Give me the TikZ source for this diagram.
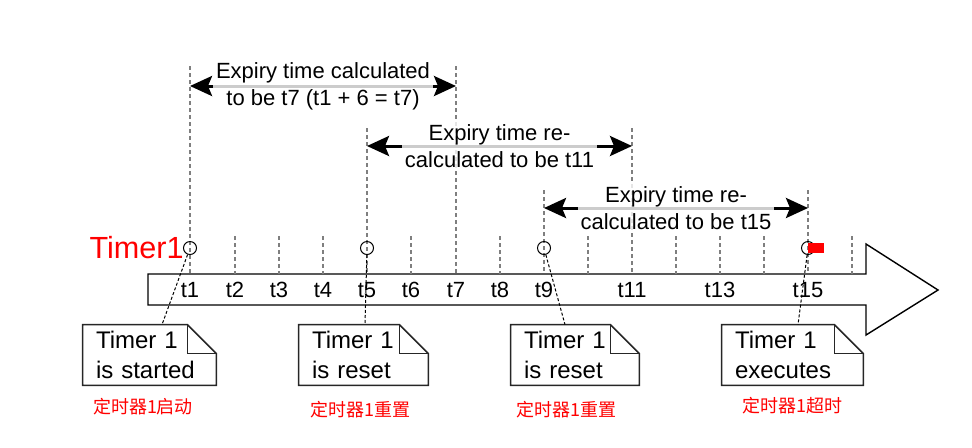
\documentclass[tikz,border=0pt]{standalone}
\usepackage{fontspec}
\setmainfont{Liberation Sans}
\newfontfamily\cjk{Noto Sans CJK SC}
\usepackage{tikz}
\usetikzlibrary{arrows.meta,positioning}
\definecolor{tickgray}{HTML}{7F7F7F}
\definecolor{alarm}{HTML}{FF0000}
\newcommand{\dogear}[1]{%
  \draw[noteline] (#1.north west) -- ([xshift=-14.5pt]#1.north east) -- ([yshift=-14.5pt]#1.north east)
    -- (#1.south east) -- (#1.south west) -- cycle;
  \draw[noteline] ([xshift=-14.5pt]#1.north east) |- ([yshift=-14.5pt]#1.north east);}

\begin{document}
\begin{tikzpicture}[
  x=0.5pt,y=-0.5pt,
  font=\fontsize{11}{13.5}\selectfont,
  tick/.style={draw=tickgray,line width=1pt,dash pattern=on 2pt off 1.5pt},
  span/.style={{Stealth[length=11pt,width=10pt,inset=2pt]}-{Stealth[length=11pt,width=10pt,inset=2pt]},line width=1.5pt},
  spanlabel/.style={fill=white,fill opacity=0.8,text opacity=1,align=center,inner sep=1.5pt},
  ring/.style={circle,draw,line width=0.5pt,inner sep=0pt,minimum size=6.5pt},
  noteline/.style={draw=black!85,line width=0.75pt},
  note/.style={inner xsep=6.5pt,inner ysep=0pt,minimum height=30pt,align=left,font=\fontsize{12}{15}\selectfont},
  link/.style={line width=0.5pt,dash pattern=on 1.5pt off 1pt},
  caption/.style={text=alarm,font=\cjk\fontsize{9}{11}\selectfont}
]
\useasboundingbox (0,0) rectangle (972,447);
% time bar
\draw[line width=0.7pt,fill=white] (148,274) -- (866,274) -- (866,244) -- (938,290) -- (866,335) -- (866,305) -- (148,305) -- cycle;
\foreach \i/\x in {1/190,2/235,3/279,4/323,5/367,6/411,7/456,8/500,9/544,10/588,11/632,12/676,13/720,14/764,15/808,16/852}
  \coordinate (b\i) at (\x,274);
\foreach \i in {2,3,4,6,8,10,12,13,14,16}
  \draw[tick] ([yshift=19pt]b\i) -- (b\i);
\foreach \i in {1,...,9,11,13,15}
  \node (l\i) at ([yshift=-8pt]b\i) {t\i};
% long guide lines
\coordinate (u1) at (190,66);
\coordinate (u7) at (456,66);
\coordinate (u5) at (367,128);
\coordinate (u11) at (632,128);
\coordinate (u9) at (544,190);
\coordinate (u15) at (808,190);
\draw[tick] (u1) -- (b1);
\draw[tick] (u7) -- (b7);
\draw[tick] (u5) -- (b5);
\draw[tick] (u11) -- (b11);
\draw[tick] (u9) -- (b9);
\draw[tick] (u15) -- (b15);
% expiry spans
\coordinate (s1a) at (190,86);
\coordinate (s1b) at (456,86);
\coordinate (s2a) at (367,146);
\coordinate (s2b) at (632,146);
\coordinate (s3a) at (544,208);
\coordinate (s3b) at (808,208);
\draw[span] (s1a) -- node[spanlabel]{Expiry time calculated\\to be t7 (t1 + 6 = t7)} (s1b);
\draw[span] (s2a) -- node[spanlabel]{Expiry time re-\\calculated to be t11} (s2b);
\draw[span] (s3a) -- node[spanlabel]{Expiry time re-\\calculated to be t15} (s3b);
% events
\node[ring] (c1) at (190,248) {};
\node[ring] (c5) at (367,248) {};
\node[ring] (c9) at (544,248) {};
\node[ring] (c15) at (808,248) {};
\node[fill=alarm,inner sep=0pt,minimum width=8pt,minimum height=5pt,anchor=west] (flag) at (c15.center) {};
\node[text=alarm,font=\fontsize{15.3}{18}\selectfont,inner sep=0pt,left=-0.5pt of c1] (timer) {Timer1};
% notes
\node[note,text width=53.5pt] (n1) at (149.5,355) {Timer 1\\is started};
\node[note,text width=51.5pt] (n2) at (363.5,355) {Timer 1\\is reset};
\node[note,text width=51pt] (n3) at (575,355) {Timer 1\\is reset};
\node[note,text width=57.5pt] (n4) at (792.5,355) {Timer 1\\executes};
\dogear{n1}
\dogear{n2}
\dogear{n3}
\dogear{n4}
\draw[link] (c1) -- ([xshift=6.25pt]n1.north);
\draw[link] (c5) -- ([xshift=0.75pt]n2.north);
\draw[link] (c9) -- ([xshift=-5pt]n3.north);
\draw[link] (c15) -- ([xshift=2.75pt]n4.north);
\node[caption] (cap1) at (143,407) {定时器1启动};
\node[caption] (cap2) at (360,410) {定时器1重置};
\node[caption] (cap3) at (566,410) {定时器1重置};
\node[caption] (cap4) at (792,406) {定时器1超时};
\end{tikzpicture}
\end{document}
